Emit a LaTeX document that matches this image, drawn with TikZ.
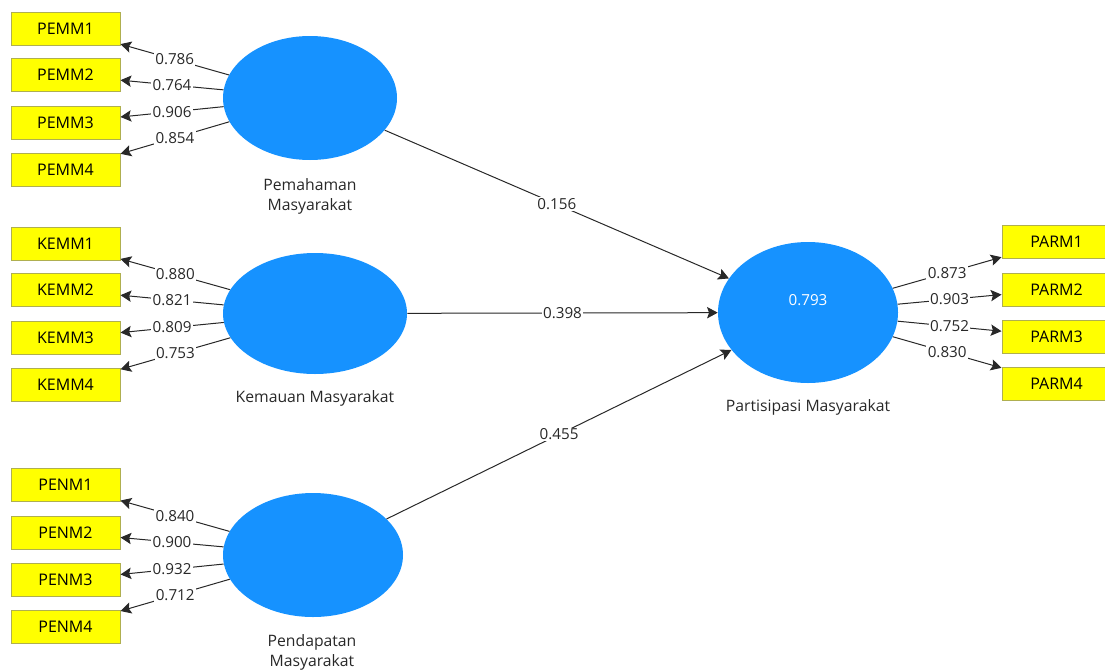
\documentclass[tikz,border=0pt]{standalone}
\usepackage{tikz}
\usepackage{fontspec}
\setmainfont{Open Sans}
\usetikzlibrary{shapes.geometric}
\usetikzlibrary{arrows.meta}

\definecolor{lvblue}{RGB}{22,146,255}
\definecolor{mvyellow}{RGB}{255,255,0}
\definecolor{mvline}{RGB}{175,175,80}
\definecolor{pathgray}{RGB}{40,40,40}

\tikzset{
  mvbox/.style={draw=mvline, line width=0.75pt, fill=mvyellow, rectangle, inner sep=0pt,
    minimum width=81.75pt, minimum height=24.75pt, font=\fontsize{12}{14}\selectfont, text=black},
  lvell/.style={ellipse, draw=none, fill=lvblue, inner sep=0pt},
  lvname/.style={align=center, font=\fontsize{11.8}{15}\selectfont, text=pathgray},
  coef/.style={fill=white, inner sep=1pt, font=\fontsize{11.4}{13}\selectfont, text=pathgray},
  pathline/.style={draw=pathgray, line width=0.75pt, -{Stealth[length=8pt,width=8.5pt,inset=1.5pt]}}
}

\begin{document}
\begin{tikzpicture}[x=0.75pt,y=0.75pt,yscale=-1,xscale=1]
\useasboundingbox (0,0) rectangle (1105,671);

%Shape: Ellipse [Pemahaman Masyarakat]
\node [lvell, minimum width=130.5pt, minimum height=93pt] (pem) at (310,98) {};
%Shape: Ellipse [Kemauan Masyarakat]
\node [lvell, minimum width=138pt, minimum height=90.75pt] (kem) at (315,313.5) {};
%Shape: Ellipse [Pendapatan Masyarakat]
\node [lvell, minimum width=135pt, minimum height=93pt] (pen) at (313,555) {};
%Shape: Ellipse [Partisipasi Masyarakat]
\node [lvell, minimum width=135pt, minimum height=105.75pt] (par) at (808,312.5) {};
\node [font=\fontsize{11.4}{13}\selectfont, text=white] (parrsq) at (808,300) {0.793};

% Text Node
\node [lvname] (pemname) at (310,196) {Pemahaman\\Masyarakat};
\node [lvname] (kemname) at (315,398) {Kemauan Masyarakat};
\node [lvname] (penname) at (312,652) {Pendapatan\\Masyarakat};
\node [lvname] (parname) at (808,407) {Partisipasi Masyarakat};

%Shape: Rectangle [indicators]
\node [mvbox] (pemm1) at (65.5,28.5) {PEMM1};
\node [mvbox] (pemm2) at (65.5,75) {PEMM2};
\node [mvbox] (pemm3) at (65.5,122.5) {PEMM3};
\node [mvbox] (pemm4) at (65.5,170) {PEMM4};

\node [mvbox] (kemm1) at (65.5,243.5) {KEMM1};
\node [mvbox] (kemm2) at (65.5,290) {KEMM2};
\node [mvbox] (kemm3) at (65.5,338) {KEMM3};
\node [mvbox] (kemm4) at (65.5,385) {KEMM4};

\node [mvbox] (penm1) at (65.5,485) {PENM1};
\node [mvbox] (penm2) at (65.5,532.5) {PENM2};
\node [mvbox] (penm3) at (65.5,580) {PENM3};
\node [mvbox] (penm4) at (65.5,627) {PENM4};

\node [mvbox] (parm1) at (1056.5,241.5) {PARM1};
\node [mvbox] (parm2) at (1056.5,289.5) {PARM2};
\node [mvbox] (parm3) at (1056.5,336.5) {PARM3};
\node [mvbox] (parm4) at (1056.5,383.5) {PARM4};

%Straight Lines [outer loadings]
\draw [pathline] (pem) -- node [coef] {0.786} (pemm1);
\draw [pathline] (pem) -- node [coef] {0.764} (pemm2);
\draw [pathline] (pem) -- node [coef] {0.906} (pemm3);
\draw [pathline] (pem) -- node [coef] {0.854} (pemm4);

\draw [pathline] (kem) -- node [coef] {0.880} (kemm1);
\draw [pathline] (kem) -- node [coef] {0.821} (kemm2);
\draw [pathline] (kem) -- node [coef] {0.809} (kemm3);
\draw [pathline] (kem) -- node [coef] {0.753} (kemm4);

\draw [pathline] (pen) -- node [coef] {0.840} (penm1);
\draw [pathline] (pen) -- node [coef] {0.900} (penm2);
\draw [pathline] (pen) -- node [coef] {0.932} (penm3);
\draw [pathline] (pen) -- node [coef] {0.712} (penm4);

\draw [pathline] (par) -- node [coef] {0.873} (parm1);
\draw [pathline] (par) -- node [coef] {0.903} (parm2);
\draw [pathline] (par) -- node [coef] {0.752} (parm3);
\draw [pathline] (par) -- node [coef] {0.830} (parm4);

%Straight Lines [path coefficients]
\draw [pathline] (pem) -- node [coef] {0.156} (par);
\draw [pathline] (kem) -- node [coef] {0.398} (par);
\draw [pathline] (pen) -- node [coef] {0.455} (par);

\end{tikzpicture}
\end{document}
